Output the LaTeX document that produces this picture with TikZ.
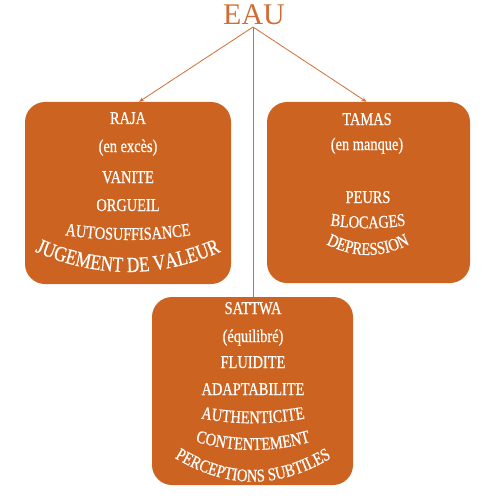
\documentclass[tikz,border=0pt]{standalone}
\usepackage{fontspec}
\setmainfont{Liberation Serif}
\newfontfamily\boxfont[FakeStretch=0.8,FakeBold=0.6]{Liberation Serif}
\usetikzlibrary{decorations.text,arrows.meta}
\definecolor{boxor}{RGB}{204,99,33}
\definecolor{lineor}{RGB}{210,108,52}
\newcommand\bxf{\boxfont\fontsize{18}{20}\selectfont}
\newcommand\bxbig{\boxfont\fontsize{21.5}{24}\selectfont}
\begin{document}
\begin{tikzpicture}[x=1pt,y=1pt,
  panel/.style={fill=boxor, rounded corners=20pt, draw=none, inner sep=0pt},
  lbl/.style={text=white, font=\bxf, anchor=base, inner sep=0pt},
  conn/.style={draw=lineor, line width=0.8pt},
  tip/.style={-{Stealth[length=5pt,width=4pt]}},
  arctext/.style={decorate, decoration={text along path, text color=white, text align=center, text={#1}}}]
\useasboundingbox (0,0) rectangle (500,-500);
% title
\node[font=\fontsize{30}{32}\selectfont, text=lineor, inner sep=0pt, anchor=base] (eau) at (254,-25) {EAU};
\coordinate (hub) at (253,-27);
% panels
\node[panel, minimum width=206pt, minimum height=182pt] (raja) at (128,-193) {};
\node[panel, minimum width=203pt, minimum height=181pt] (tamas) at (368.5,-192.5) {};
\node[panel, minimum width=201pt, minimum height=188pt] (sattwa) at (252.5,-391) {};
% connectors
\draw[conn, tip] (hub) -- ([xshift=11pt]raja.north);
\draw[conn, tip] (hub) -- ([xshift=-2pt]tamas.north);
\draw[conn] (hub) -- (hub |- sattwa.north);
% RAJA
\node[lbl] (r1) at (128,-124) {RAJA};
\node[lbl] (r2) at (128,-152) {(en excès)};
\node[lbl] (r3) at (128,-183) {VANITE};
\node[lbl] (r4) at (128,-211) {ORGUEIL};
\path[arctext={|\bxf|AUTOSUFFISANCE}] (32,-228.75) parabola bend (128,-240) (224,-228.75);
\path[arctext={|\bxbig|JUGEMENT DE VALEUR}] (18,-243.4) parabola bend (128,-272) (238,-243.4);
% TAMAS
\node[lbl] (t1) at (367,-125) {TAMAS};
\node[lbl] (t2) at (367,-150) {(en manque)};
\node[lbl] (t3) at (368,-203) {PEURS};
\path[arctext={|\bxf|BLOCAGES}] (298,-218.3) parabola bend (368,-228.3) (438,-218.3);
\path[arctext={|\bxf|DEPRESSION}] (308,-232.6) parabola bend (368,-255) (428,-232.6);
% SATTWA
\node[lbl] (s1) at (253,-314) {SATTWA};
\node[lbl] (s2) at (253,-342) {(équilibré)};
\node[lbl] (s3) at (253,-368) {FLUIDITE};
\node[lbl] (s4) at (253,-395) {ADAPTABILITE};
\path[arctext={|\bxf|AUTHENTICITE}] (173,-411.8) parabola bend (253,-423.3) (333,-411.8);
\path[arctext={|\bxf|CONTENTEMENT}] (168,-432) parabola bend (253,-450) (338,-432);
\path[arctext={|\bxf|PERCEPTIONS SUBTILES}] (153,-442.7) parabola bend (253,-481.7) (353,-442.7);
\end{tikzpicture}
\end{document}
